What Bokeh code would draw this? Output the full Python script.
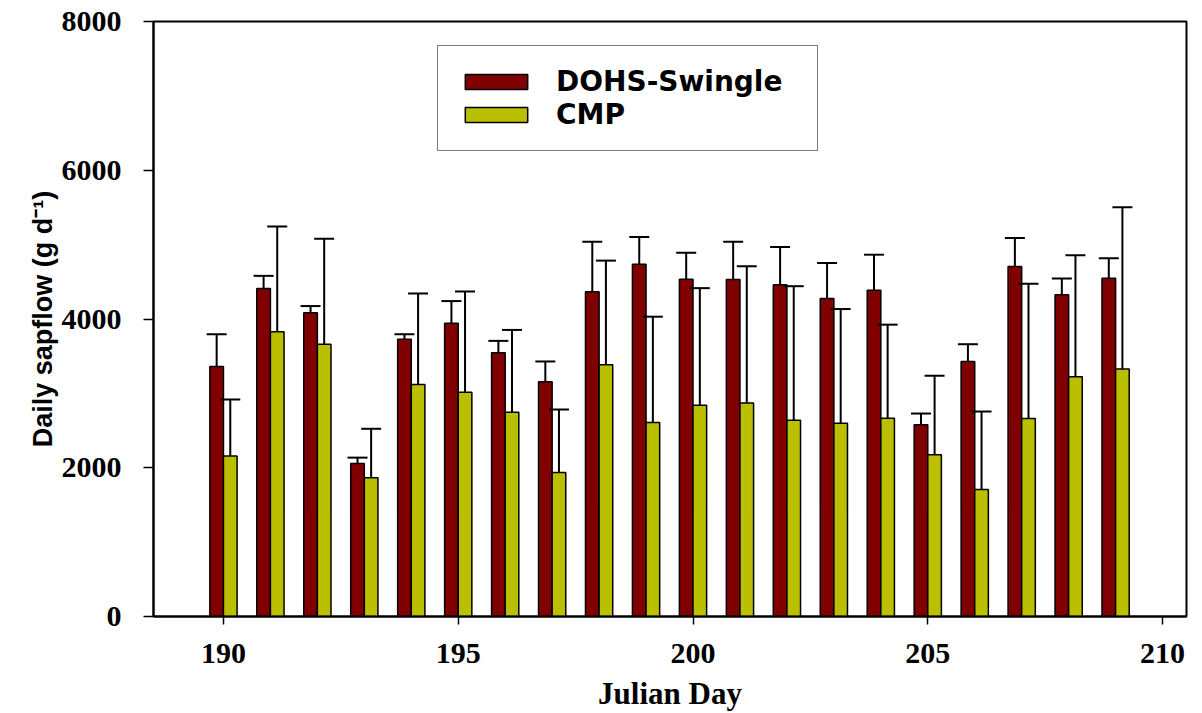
from bokeh.plotting import figure
from bokeh.models import (ColumnDataSource, Range1d, FixedTicker, Whisker, TeeHead,
                          Legend, LegendItem)
from bokeh.embed import file_html
from bokeh.resources import INLINE

# Julian days and daily sap flow (g d-1), mean and upper error
days = list(range(190, 210))
dohs_mean = [3362, 4410, 4085, 2056, 3728, 3942, 3545, 3157, 4366, 4736,
             4535, 4531, 4460, 4277, 4388, 2578, 3429, 4705, 4326, 4548]
dohs_err = [433, 170, 89, 80, 67, 299, 161, 272, 673, 365,
            357, 508, 507, 476, 477, 151, 232, 383, 218, 268]
cmp_mean = [2158, 3830, 3661, 1864, 3121, 3014, 2747, 1935, 3385, 2609,
            2841, 2872, 2640, 2600, 2667, 2176, 1708, 2662, 3224, 3327]
cmp_err = [758, 1414, 1418, 660, 1222, 1356, 1106, 848, 1400, 1422,
           1574, 1837, 1801, 1534, 1257, 1061, 1048, 1811, 1632, 2175]

x_ticks = [190, 195, 200, 205, 210]
y_ticks = [0, 2000, 4000, 6000, 8000]
series_names = ["DOHS-Swingle", "CMP"]
series_colors = ["#800000", "#BABF00"]

offset = 0.145
bar_w = 0.29

src_dohs = ColumnDataSource(dict(
    x=[d - offset for d in days], y=dohs_mean,
    upper=[m + e for m, e in zip(dohs_mean, dohs_err)]))
src_cmp = ColumnDataSource(dict(
    x=[d + offset for d in days], y=cmp_mean,
    upper=[m + e for m, e in zip(cmp_mean, cmp_err)]))

p = figure(width=1202, height=713,
           x_range=Range1d(188.51, 210.51), y_range=Range1d(0, 8000),
           output_backend="svg", toolbar_location=None,
           min_border_left=153, min_border_right=16,
           min_border_top=21, min_border_bottom=95)

p.background_fill_color = "white"
p.border_fill_color = "white"
p.xgrid.grid_line_color = None
p.ygrid.grid_line_color = None
p.outline_line_color = "black"
p.outline_line_width = 2
p.outline_line_alpha = 1.0

r1 = p.vbar(x="x", top="y", width=bar_w, source=src_dohs,
            fill_color=series_colors[0], line_color="black", line_width=1.5)
r2 = p.vbar(x="x", top="y", width=bar_w, source=src_cmp,
            fill_color=series_colors[1], line_color="black", line_width=1.5)

for src in (src_dohs, src_cmp):
    w = Whisker(source=src, base="x", lower="y", upper="upper",
                dimension="height", line_color="black", line_width=2,
                upper_head=TeeHead(size=20, line_width=2, line_color="black"),
                lower_head=None, level="overlay")
    p.add_layout(w)

# axes
for ax in (p.xaxis[0], p.yaxis[0]):
    ax.axis_line_width = 2
    ax.axis_line_color = "black"
    ax.major_tick_line_width = 1.5
    ax.major_tick_line_color = "black"
    ax.major_tick_in = 0
    ax.minor_tick_line_color = None
    ax.major_label_text_font = "Liberation Serif"
    ax.major_label_text_font_style = "bold"
    ax.major_label_text_font_size = "30px"
    ax.major_label_text_color = "black"
    ax.axis_label_text_color = "black"

p.xaxis.ticker = FixedTicker(ticks=x_ticks)
p.yaxis.ticker = FixedTicker(ticks=y_ticks)
p.xaxis.major_tick_out = 8
p.yaxis.major_tick_out = 10
p.xaxis.major_label_standoff = 19
p.yaxis.major_label_standoff = 22

p.xaxis.axis_label = "Julian Day"
p.xaxis.axis_label_text_font = "Liberation Serif"
p.xaxis.axis_label_text_font_style = "bold"
p.xaxis.axis_label_text_font_size = "31px"
p.xaxis.axis_label_standoff = 10

p.yaxis.axis_label = "Daily sapflow (g d\u207b\u00b9)"
p.yaxis.axis_label_text_font = "Liberation Sans"
p.yaxis.axis_label_text_font_style = "bold"
p.yaxis.axis_label_text_font_size = "27px"
p.yaxis.axis_label_standoff = 1

legend = Legend(items=[LegendItem(label=series_names[0], renderers=[r1]),
                       LegendItem(label=series_names[1], renderers=[r2])],
                location=(284, 465), margin=0, padding=19, spacing=0,
                glyph_width=78, glyph_height=19, label_height=27,
                label_width=242, label_standoff=21,
                label_text_font="DejaVu Sans", label_text_font_style="bold",
                label_text_font_size="28px", label_text_color="black",
                border_line_color="black", border_line_width=1.5,
                background_fill_color="white", background_fill_alpha=1.0)
p.add_layout(legend)

open("out.html", "w").write(file_html(p, INLINE))
